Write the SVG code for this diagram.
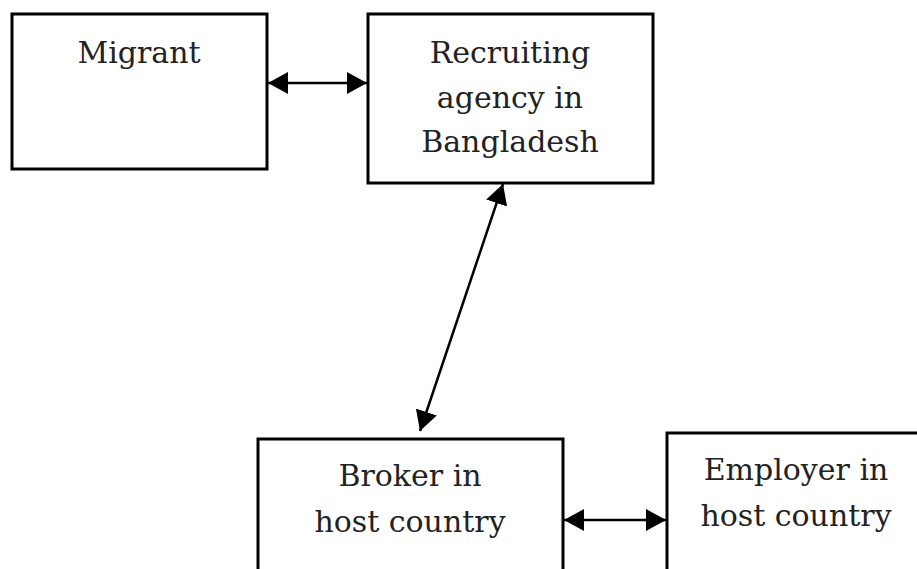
<svg xmlns="http://www.w3.org/2000/svg" width="917" height="569" viewBox="0 0 917 569">
  <defs>
    <marker id="head" viewBox="0 0 20 22" refX="20" refY="11" markerWidth="20" markerHeight="22" markerUnits="userSpaceOnUse" orient="auto-start-reverse">
      <path d="M0,0 L20,11 L0,22 Z" fill="#000"/>
    </marker>
    <style>
      .box { fill: #fff; stroke: #000; stroke-width: 3; }
      .lbl { font-family: "DejaVu Serif", "Liberation Serif", serif; font-size: 30px; fill: #222; text-anchor: middle; }
      .link { stroke: #000; stroke-width: 2.5; fill: none; marker-start: url(#head); marker-end: url(#head); }
    </style>
  </defs>
  <rect width="917" height="569" fill="#fff"/>

  <g id="migrant">
    <rect class="box" x="12" y="14" width="255" height="155"/>
    <text class="lbl" x="139" y="63">Migrant</text>
  </g>

  <g id="recruiting-agency">
    <rect class="box" x="368" y="14" width="285" height="169"/>
    <text class="lbl" x="510" y="63">Recruiting</text>
    <text class="lbl" x="510" y="108">agency in</text>
    <text class="lbl" x="510" y="152">Bangladesh</text>
  </g>

  <g id="broker">
    <rect class="box" x="258" y="439" width="305" height="140"/>
    <text class="lbl" x="410" y="486">Broker in</text>
    <text class="lbl" x="410" y="532">host country</text>
  </g>

  <g id="employer">
    <rect class="box" x="667" y="433" width="260" height="146"/>
    <text class="lbl" x="796" y="480">Employer in</text>
    <text class="lbl" x="796" y="526">host country</text>
  </g>

  <g id="connectors">
    <line class="link" x1="268" y1="83" x2="367" y2="83"/>
    <line class="link" x1="503" y1="184" x2="420" y2="431"/>
    <line class="link" x1="564" y1="520" x2="666" y2="520"/>
  </g>
</svg>
